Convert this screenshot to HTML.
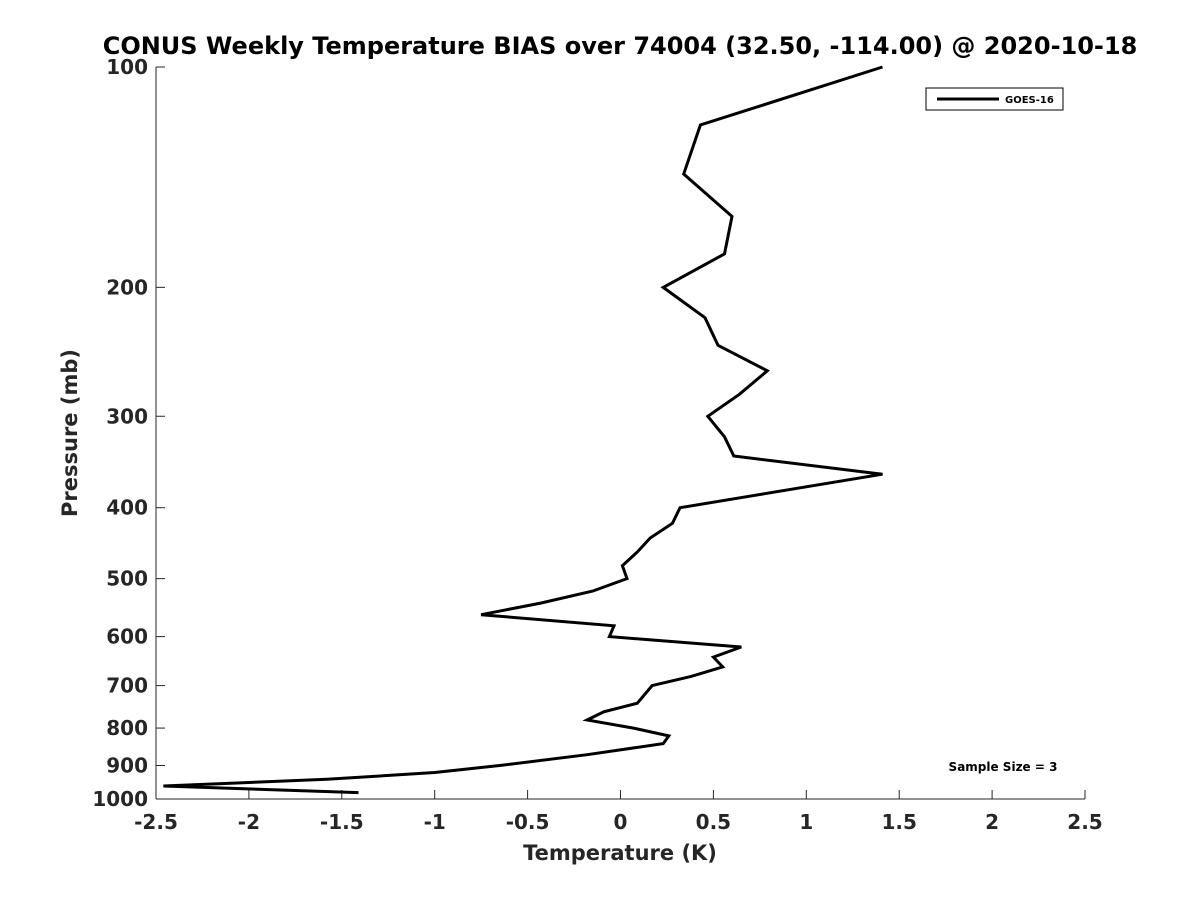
<!DOCTYPE html>
<html><head><meta charset="utf-8"><style>
body{margin:0;background:#fff;font-family:"DejaVu Sans","Liberation Sans",sans-serif;}
svg text{font-family:"DejaVu Sans","Liberation Sans",sans-serif;font-weight:bold;fill:#262626;}
</style></head><body>
<svg width="1200" height="900">
<text x="620" y="54" font-size="24" text-anchor="middle" fill="#000" style="fill:#000">CONUS Weekly Temperature BIAS over 74004 (32.50, -114.00) @ 2020-10-18</text>
<g id="axes"></g>
<path id="line" fill="none" stroke="#000" stroke-width="3" stroke-linejoin="miter"/>
<text x="620" y="860" font-size="21" text-anchor="middle">Temperature (K)</text>
<text transform="translate(77,433) rotate(-90)" font-size="21" text-anchor="middle">Pressure (mb)</text>
<g>
<rect x="926" y="88" width="137" height="22" fill="#fff" stroke="#000" stroke-width="1"/>
<line x1="937" y1="99" x2="999" y2="99" stroke="#000" stroke-width="3"/>
<text x="1005" y="103" font-size="10" style="fill:#000">GOES-16</text>
</g>
<text x="1003" y="771" font-size="12" text-anchor="middle" style="fill:#000">Sample Size = 3</text>
</svg>
<script>
const xTicks=[-2.5,-2,-1.5,-1,-0.5,0,0.5,1,1.5,2,2.5];
const xTickLabels=["-2.5","-2","-1.5","-1","-0.5","0","0.5","1","1.5","2","2.5"];
const yTicks=[100,200,300,400,500,600,700,800,900,1000];
const pressures=[100,120,140,160,180,200,220,240,260,280,300,320,340,360,400,420,440,460,480,500,520,540,560,580,600,620,640,660,680,700,740,760,780,800,820,840,870,900,920,940,960,980];
const biases=[1.41,0.43,0.34,0.60,0.56,0.23,0.455,0.525,0.79,0.64,0.47,0.56,0.61,1.41,0.32,0.28,0.16,0.09,0.01,0.035,-0.15,-0.43,-0.75,-0.035,-0.06,0.65,0.50,0.55,0.38,0.17,0.09,-0.09,-0.18,0.07,0.26,0.23,-0.18,-0.65,-1.0,-1.58,-2.46,-1.41];
const L=156,R=1085,T=67,B=799;
const xs=v=>L+(v+2.5)/5*(R-L);
const ys=p=>T+(Math.log10(p)-2)*(B-T);
const ns="http://www.w3.org/2000/svg";
const ax=document.getElementById('axes');
function mk(t,a){const e=document.createElementNS(ns,t);for(const k in a)e.setAttribute(k,a[k]);ax.appendChild(e);return e;}
let e=mk('line',{x1:L,y1:B,x2:R,y2:B,stroke:'#262626','stroke-width':1});


e=mk('line',{x1:L,y1:T,x2:L,y2:B,stroke:'#262626','stroke-width':1});


xTicks.forEach((v,i)=>{const x=xs(v);
 mk('line',{x1:x,y1:B,x2:x,y2:B-9,stroke:'#262626'});
 const t=mk('text',{x:x,y:B+30,'font-size':20,'text-anchor':'middle'});t.textContent=xTickLabels[i];
 
 
});
yTicks.forEach(p=>{const y=ys(p);
 mk('line',{x1:L,y1:y,x2:L+9,y2:y,stroke:'#262626'});
 const t=mk('text',{x:L-8,y:y+7,'font-size':20,'text-anchor':'end'});t.textContent=p;
 
 
});
document.getElementById('line').setAttribute('d',pressures.map((p,i)=>(i?'L':'M')+xs(biases[i]).toFixed(1)+','+ys(p).toFixed(1)).join(''));
</script>
</body></html>
